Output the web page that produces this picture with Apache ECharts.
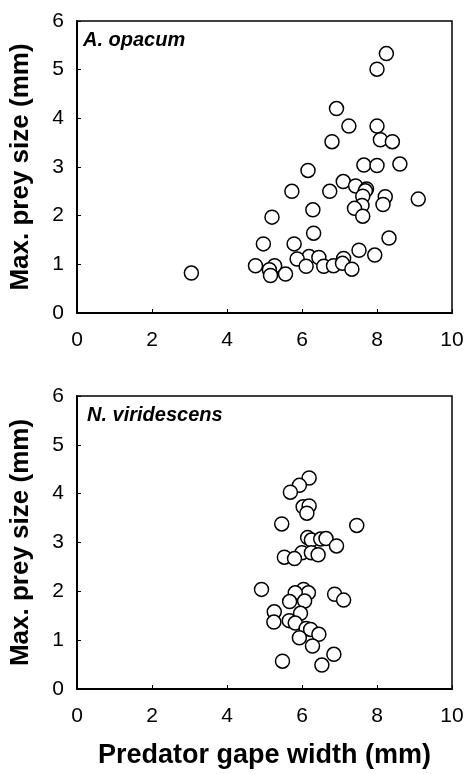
<!DOCTYPE html>
<html>
<head>
<meta charset="utf-8">
<script src="https://cdn.jsdelivr.net/npm/echarts@6/dist/echarts.min.js"></script>
<style>
  html, body { margin: 0; padding: 0; background: #fff; }
  #chart { width: 468px; height: 774px; }
</style>
</head>
<body>
<div id="chart"></div>
<script>
// Max. prey size against predator gape width, two species
var panelNames = ['A. opacum', 'N. viridescens'];
var xTicks = [0, 2, 4, 6, 8, 10];
var yTicks = [0, 1, 2, 3, 4, 5, 6];

var opacumGape = [3.05, 8.25, 8.0, 6.92, 7.25, 8.0, 8.09, 8.41, 6.8, 8.61, 7.65, 8.0,
  6.16, 7.1, 7.43, 7.72, 7.69, 7.62, 8.22, 9.1, 5.73, 6.74, 8.16, 7.6, 7.4, 6.29,
  7.62, 5.2, 6.31, 8.32, 4.97, 5.79, 7.52, 7.94, 6.19, 5.87, 6.45, 7.11, 4.76, 5.27,
  5.13, 5.16, 5.56, 6.11, 6.58, 6.84, 7.08, 7.33];
var opacumPrey = [0.82, 5.33, 5.01, 4.2, 3.84, 3.84, 3.56, 3.52, 3.52, 3.06, 3.04, 3.03,
  2.93, 2.7, 2.61, 2.55, 2.51, 2.4, 2.39, 2.34, 2.5, 2.5, 2.23, 2.21, 2.15, 2.12,
  1.99, 1.97, 1.64, 1.54, 1.42, 1.42, 1.29, 1.19, 1.16, 1.11, 1.14, 1.12, 0.97, 0.97,
  0.89, 0.77, 0.8, 0.96, 0.96, 0.97, 1.02, 0.9];

var viridGape = [6.19, 5.93, 5.69, 6.03, 6.19, 6.13, 5.46, 7.46, 6.15, 6.25, 6.5, 6.64,
  6.92, 6.0, 6.25, 6.43, 5.53, 5.8, 4.92, 6.04, 6.17, 5.82, 6.87, 7.11, 5.67, 6.07,
  5.96, 5.26, 5.25, 5.66, 5.82, 6.11, 6.23, 6.45, 5.93, 6.28, 6.85, 5.48, 6.53];
var viridPrey = [4.32, 4.17, 4.03, 3.73, 3.75, 3.6, 3.38, 3.35, 3.1, 3.05, 3.07, 3.08,
  2.93, 2.79, 2.79, 2.75, 2.7, 2.67, 2.04, 2.04, 1.97, 1.97, 1.94, 1.82, 1.79, 1.8,
  1.55, 1.58, 1.37, 1.4, 1.35, 1.24, 1.22, 1.12, 1.05, 0.88, 0.71, 0.57, 0.49];

function pairs(xs, ys) {
  return xs.map(function (x, i) { return [x, ys[i]]; });
}

var font = 'Liberation Sans, Arial, sans-serif';
var chart = echarts.init(document.getElementById('chart'));

function xAxis(idx, withName) {
  return {
    type: 'value', gridIndex: idx,
    min: xTicks[0], max: xTicks[xTicks.length - 1], interval: 2,
    axisLine: { lineStyle: { color: '#000', width: 2 } },
    axisTick: { inside: true, length: 4, lineStyle: { color: '#000', width: 1 } },
    axisLabel: { color: '#000', fontSize: 21, fontFamily: font, margin: 17 },
    splitLine: { show: false },
    name: withName ? 'Predator gape width (mm)' : '',
    nameLocation: 'middle', nameGap: 53,
    nameTextStyle: { color: '#000', fontSize: 27, fontWeight: 'bold', fontFamily: font }
  };
}

function yAxis(idx) {
  return {
    type: 'value', gridIndex: idx,
    min: yTicks[0], max: yTicks[yTicks.length - 1], interval: 1,
    axisLine: { lineStyle: { color: '#000', width: 2 } },
    axisTick: { inside: true, length: 4, lineStyle: { color: '#000', width: 1 } },
    axisLabel: { color: '#000', fontSize: 21, fontFamily: font, margin: 13 },
    splitLine: { show: false },
    name: 'Max. prey size (mm)',
    nameLocation: 'middle', nameGap: 43,
    nameTextStyle: { color: '#000', fontSize: 26, fontWeight: 'bold', fontFamily: font }
  };
}

var symbolStyle = { color: '#fff', borderColor: '#000', borderWidth: 1.5, opacity: 1 };
var titleStyle = { fontSize: 20, fontWeight: 'bold', fontStyle: 'italic', color: '#000', fontFamily: font };

chart.setOption({
  animation: false,
  backgroundColor: '#fff',
  title: [
    { text: panelNames[0], left: 83, top: 30, padding: 0, textStyle: titleStyle },
    { text: panelNames[1], left: 87, top: 405, padding: 0, textStyle: titleStyle }
  ],
  grid: [
    { left: 77, right: 16, top: 21, height: 292, show: true, borderColor: '#000', borderWidth: 1.5 },
    { left: 77, right: 16, top: 396, height: 293, show: true, borderColor: '#000', borderWidth: 1.5 }
  ],
  xAxis: [xAxis(0, false), xAxis(1, true)],
  yAxis: [yAxis(0), yAxis(1)],
  series: [
    { type: 'scatter', xAxisIndex: 0, yAxisIndex: 0, symbolSize: 14,
      itemStyle: symbolStyle, data: pairs(opacumGape, opacumPrey) },
    { type: 'scatter', xAxisIndex: 1, yAxisIndex: 1, symbolSize: 14,
      itemStyle: symbolStyle, data: pairs(viridGape, viridPrey) }
  ]
});
</script>
</body>
</html>
